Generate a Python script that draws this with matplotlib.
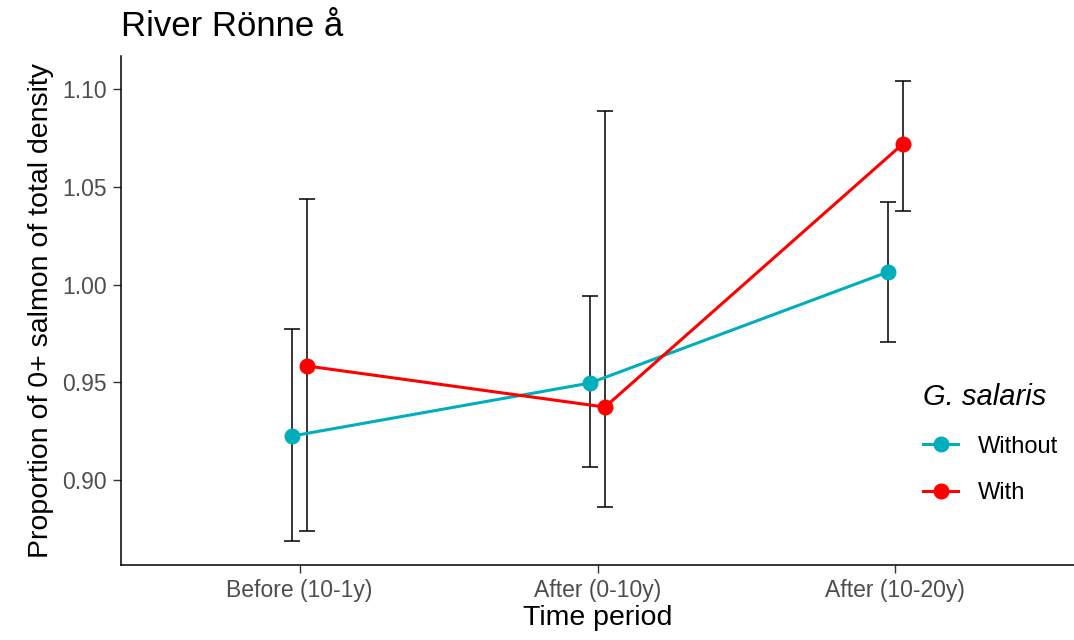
import numpy as np
import matplotlib
matplotlib.use('Agg')
import matplotlib.pyplot as plt

plt.rcParams['font.family'] = ['Liberation Sans', 'DejaVu Sans']

# Data
periods = ['Before (10-1y)', 'After (0-10y)', 'After (10-20y)']
without_mean = [0.9225, 0.9496, 1.0064]
without_low = [0.8688, 0.9067, 0.9706]
without_high = [0.9772, 0.9941, 1.0422]
with_mean = [0.9583, 0.9373, 1.0719]
with_low = [0.8739, 0.8862, 1.0376]
with_high = [1.0437, 1.0890, 1.1041]

col_without = '#00AFBB'
col_with = '#FF0000'
dodge = 0.025

fig = plt.figure(figsize=(10.74, 6.4), dpi=100)
ax = fig.add_axes([121 / 1074, 75 / 640, 953 / 1074, 509 / 640])

x = np.arange(1, len(periods) + 1)

series = [
    ('Without', without_mean, without_low, without_high, col_without, -dodge),
    ('With', with_mean, with_low, with_high, col_with, dodge),
]

# error bars first, then lines and points on top
for name, m, lo, hi, col, off in series:
    m = np.array(m)
    yerr = [m - np.array(lo), np.array(hi) - m]
    ax.errorbar(x + off, m, yerr=yerr, fmt='none', ecolor='black',
                elinewidth=1.1, capsize=5.5, capthick=1.1, zorder=2)

for name, m, lo, hi, col, off in series:
    ax.plot(x + off, m, color=col, lw=2.2, marker='o', ms=10.5,
            label=name, zorder=3)

ax.set_xlim(0.4, 3.6)
ax.set_ylim(0.8565, 1.1169)
ax.set_xticks(x)
ax.set_xticklabels(periods)
ax.set_yticks([0.90, 0.95, 1.00, 1.05, 1.10])
ax.set_yticklabels(['0.90', '0.95', '1.00', '1.05', '1.10'])

for side in ['top', 'right']:
    ax.spines[side].set_visible(False)
for side in ['left', 'bottom']:
    ax.spines[side].set_linewidth(1.1)
    ax.spines[side].set_color('black')

ax.tick_params(axis='both', length=6, width=1.0, color='#333333',
               labelcolor='#4D4D4D', labelsize=16.5, pad=4)

ax.set_xlabel('Time period', fontsize=20.5, color='black', labelpad=2)
ax.set_ylabel('Proportion of 0+ salmon of total density', fontsize=20.5,
              color='black', labelpad=6)

fig.text(121 / 1074, 1 - 26 / 640, 'River Rönne å', fontsize=25,
         ha='left', va='center', color='black')

leg = ax.legend(title='G. salaris', loc='upper left',
                bbox_to_anchor=(911 / 1074, 1 - 371 / 640),
                bbox_transform=fig.transFigure, frameon=False,
                fontsize=17, handlelength=1.5, handletextpad=0.85,
                labelspacing=1.05, alignment='left', borderpad=0)
leg.get_title().set_fontsize(21)
leg.get_title().set_fontstyle('italic')

fig.savefig('out.png', dpi=100)
